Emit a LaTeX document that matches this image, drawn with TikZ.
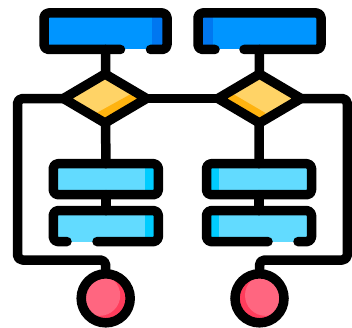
\documentclass[tikz,border=0pt]{standalone}
\usetikzlibrary{shapes.geometric}
\definecolor{blueA}{HTML}{0095FF}
\definecolor{blueB}{HTML}{0077F0}
\definecolor{cyanA}{HTML}{62DBFF}
\definecolor{cyanB}{HTML}{00CCFF}
\definecolor{yelA}{HTML}{FFD366}
\definecolor{yelB}{HTML}{FFB30F}
\definecolor{redA}{HTML}{FF6680}
\definecolor{redB}{HTML}{FF3D5C}
\tikzset{
  x=1pt,y=-1pt,
  ink/.style={draw=black,line width=9.5pt,line cap=round,line join=round},
  wire/.style={ink,rounded corners=5pt},
  outline/.style={ink,rounded corners=4.5pt},
  base/.style={rectangle,inner sep=0pt,outer sep=0pt},
  topbox/.style={base,minimum width=123pt,minimum height=36.5pt,fill=blueA},
  midbox/.style={base,minimum width=105pt,minimum height=31pt,fill=cyanA},
  decision/.style={diamond,inner sep=0pt,outer sep=0pt,minimum width=83pt,minimum height=49pt,fill=yelA},
  stop/.style={circle,inner sep=0pt,outer sep=0pt,minimum size=49pt},
}
\begin{document}
\begin{tikzpicture}
\useasboundingbox (0,0) rectangle (352,327);
\fill[white] (0,0) rectangle (352,327);
% nodes
\node[topbox] (t1) at (105.5,31.2) {};
\node[topbox] (t2) at (259.5,31.2) {};
\node[midbox] (a1) at (105.8,179.2) {};
\node[midbox] (a2) at (259,179.2) {};
\node[midbox] (b1) at (105.8,226.1) {};
\node[midbox] (b2) at (259,226.1) {};
\node[stop,fill=redB] (c1) at (105.7,298.3) {};
\node[stop,fill=redB] (c2) at (259.5,298.3) {};
\coordinate (l1) at (17.5,260);
\coordinate (l2) at (347.3,260);
% shaded strips
\fill[blueB] (t1.north east) ++(-14.7,0) rectangle (t1.south east);
\fill[blueB] (t2.north west) rectangle ([xshift=14.7pt]t2.south west);
\fill[cyanB] (a1.north east) ++(-13,0) rectangle (a1.south east);
\fill[cyanB] (b1.north east) ++(-13,0) rectangle (b1.south east);
\fill[cyanB] (a2.north west) rectangle ([xshift=12.8pt]a2.south west);
\fill[cyanB] (b2.north west) rectangle ([xshift=12.8pt]b2.south west);
% connectors
\draw[ink] (t1.south) -- (a1.north);
\draw[ink] (t2.south) -- (a2.north);
\draw[ink] (a1.south) -- (b1.north);
\draw[ink] (a2.south) -- (b2.north);
\node[decision] (d1) at (105,98.5) {};
\node[decision] (d2) at (259.5,98.5) {};
\draw[ink] (d1.east) -- (d2.west);
\draw[wire] (d1.west) -| (l1) -| (c1.north);
\draw[wire] (d2.east) -| (l2) -| (c2.north);
% diamond shading
\fill[yelB] (141,98.5) -- (105,120) -- (96.5,113) -- (130,94.5) -- cycle;
\fill[yelB] (224,98.5) -- (259.5,120) -- (265.5,113) -- (234,94.5) -- cycle;
\draw[ink] (d1.north) -- (d1.east) -- (d1.south) -- (d1.west) -- cycle;
\draw[ink] (d2.north) -- (d2.east) -- (d2.south) -- (d2.west) -- cycle;
% box outlines with a gap in the lower side
\draw[outline] (150.5,0|-t1.south) -- (t1.south east) -- (t1.north east) -- (t1.north west) -- (t1.south west) -- (120.5,0|-t1.south);
\draw[outline] (244,0|-t2.south) -- (t2.south east) -- (t2.north east) -- (t2.north west) -- (t2.south west) -- (215,0|-t2.south);
\draw[outline] (a1.south west) rectangle (a1.north east);
\draw[outline] (a2.south west) rectangle (a2.north east);
\draw[outline] (97,0|-b1.south) -- (b1.south east) -- (b1.north east) -- (b1.north west) -- (b1.south west) -- (67,0|-b1.south);
\draw[outline] (298,0|-b2.south) -- (b2.south east) -- (b2.north east) -- (b2.north west) -- (b2.south west) -- (268,0|-b2.south);
% circles
\begin{scope}
\clip (c1) circle (24.5);
\fill[redA] ([shift={(-6,-3)}]c1.center) circle (20.5);
\end{scope}
\begin{scope}
\clip (c2) circle (24.5);
\fill[redA] ([shift={(6,-3)}]c2.center) circle (20.5);
\end{scope}
\draw[draw=black,line width=9.5pt] (c1) circle (24.5);
\draw[draw=black,line width=9.5pt] (c2) circle (24.5);
\end{tikzpicture}
\end{document}
